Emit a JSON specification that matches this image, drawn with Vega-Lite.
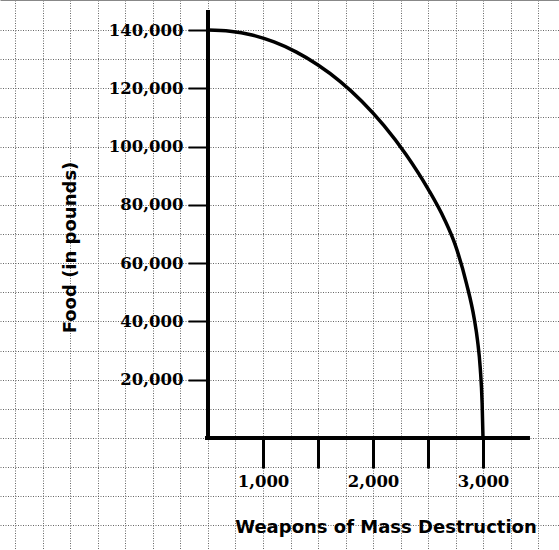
{
  "$schema": "https://vega.github.io/schema/vega-lite/v6.json",
  "width": 559,
  "height": 550,
  "autosize": {"type": "none"},
  "padding": 0,
  "background": "white",
  "config": {"view": {"stroke": null}},
  "datasets": {
    "curve": [
      {"weapons": 500, "food": 140000},
      {"weapons": 700, "food": 139600},
      {"weapons": 900, "food": 138300},
      {"weapons": 1100, "food": 135900},
      {"weapons": 1300, "food": 132500},
      {"weapons": 1500, "food": 128000},
      {"weapons": 1700, "food": 122400},
      {"weapons": 1900, "food": 115500},
      {"weapons": 2100, "food": 107200},
      {"weapons": 2300, "food": 97300},
      {"weapons": 2500, "food": 85500},
      {"weapons": 2650, "food": 75000},
      {"weapons": 2750, "food": 66000},
      {"weapons": 2850, "food": 53000},
      {"weapons": 2920, "food": 41000},
      {"weapons": 2950, "food": 33500},
      {"weapons": 2975, "food": 24000},
      {"weapons": 2992, "food": 12000},
      {"weapons": 3000, "food": 0}
    ]
  },
  "resolve": {"axis": {"x": "independent", "y": "independent"}},
  "layer": [
    {
      "data": {"name": "curve"},
      "mark": {"type": "line", "color": "black", "strokeWidth": 3.5, "interpolate": "monotone"},
      "encoding": {
        "x": {
          "field": "weapons", "type": "quantitative",
          "scale": {"domain": [-1390.9, 3690.9], "nice": false, "zero": false},
          "axis": {
            "orient": "bottom", "grid": true, "domain": false, "ticks": false, "labels": false, "title": null,
            "values": [-1250, -1000, -750, -500, -250, 0, 250, 500, 750, 1000, 1250, 1500, 1750, 2000, 2250, 2500, 2750, 3000, 3250, 3500],
            "gridColor": "#666", "gridDash": [1, 1.5], "gridWidth": 1, "gridOpacity": 1
          }
        },
        "y": {
          "field": "food", "type": "quantitative",
          "scale": {"domain": [-38435, 150309], "nice": false, "zero": false},
          "axis": {
            "orient": "left", "grid": true, "domain": false, "ticks": false, "labels": false, "title": null,
            "values": [-30000, -20000, -10000, 0, 10000, 20000, 30000, 40000, 50000, 60000, 70000, 80000, 90000, 100000, 110000, 120000, 130000, 140000],
            "gridColor": "#666", "gridDash": [1, 1.5], "gridWidth": 1, "gridOpacity": 1
          }
        }
      }
    },
    {
      "data": {"values": [{}]},
      "mark": {"type": "rule", "color": "black", "strokeWidth": 4},
      "encoding": {
        "x": {
          "datum": 500, "type": "quantitative",
          "scale": {"domain": [-1390.9, 3690.9], "nice": false, "zero": false},
          "axis": {
            "orient": "bottom", "offset": -112, "grid": false, "domain": false,
            "values": [1000, 1500, 2000, 2500, 3000],
            "labelExpr": "datum.value % 1000 === 0 ? format(datum.value, ',') : ''",
            "tickSize": 30, "tickWidth": 3, "tickColor": "black",
            "labelFont": "DejaVu Serif", "labelFontWeight": "bold", "labelFontSize": 16.5, "labelColor": "black",
            "labelPadding": 5, "labelFlush": false, "labelOverlap": false,
            "title": "Weapons of Mass Destruction",
            "titleFont": "DejaVu Sans", "titleFontWeight": "bold", "titleFontSize": 18, "titleColor": "black",
            "titleX": 385.5, "titleY": 94, "titleBaseline": "alphabetic", "titleAlign": "center"
          }
        },
        "y": {
          "datum": 146900, "type": "quantitative",
          "scale": {"domain": [-38435, 150309], "nice": false, "zero": false},
          "axis": {
            "orient": "left", "offset": -207, "grid": false, "domain": false,
            "values": [20000, 40000, 60000, 80000, 100000, 120000, 140000],
            "labelExpr": "format(datum.value, ',')",
            "tickSize": 19, "tickWidth": 2, "tickColor": "black",
            "labelFont": "DejaVu Serif", "labelFontWeight": "bold", "labelFontSize": 16.5, "labelColor": "black",
            "labelPadding": 5, "labelFlush": false, "labelOverlap": false,
            "title": "Food (in pounds)",
            "titleFont": "DejaVu Sans", "titleFontWeight": "bold", "titleFontSize": 18, "titleColor": "black",
            "titleX": -137, "titleY": 247, "titleAngle": -90, "titleBaseline": "middle", "titleAlign": "center"
          }
        },
        "y2": {"datum": 0}
      }
    },
    {
      "data": {"values": [{}]},
      "mark": {"type": "rule", "color": "black", "strokeWidth": 4},
      "encoding": {
        "x": {"datum": 473, "type": "quantitative"},
        "x2": {"datum": 3427},
        "y": {"datum": 0, "type": "quantitative"}
      }
    }
  ]
}
